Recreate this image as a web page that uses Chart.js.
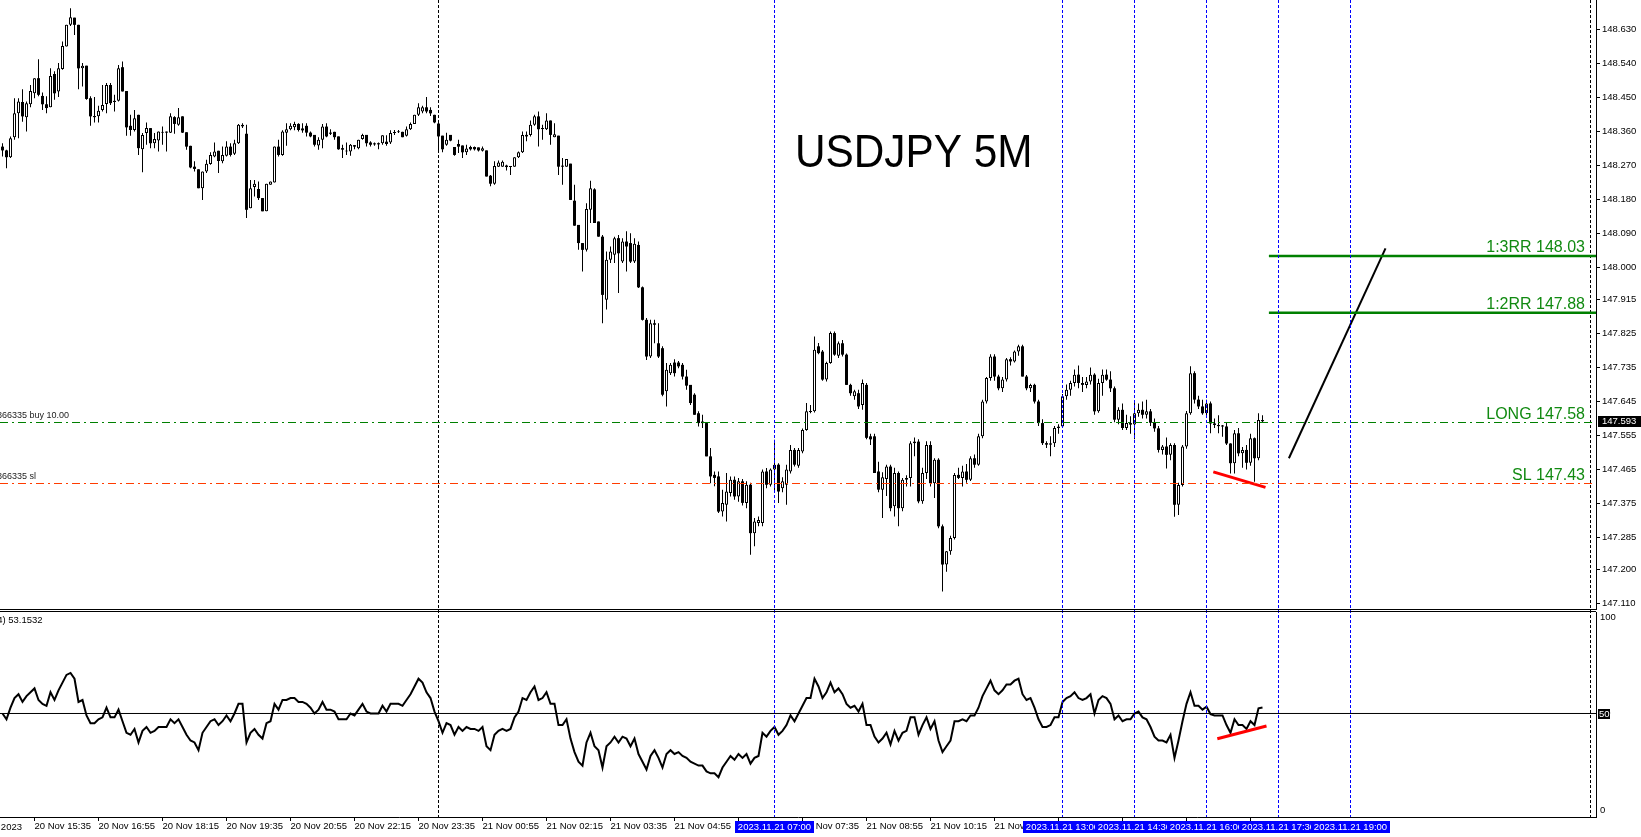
<!DOCTYPE html>
<html>
<head>
<meta charset="utf-8">
<title>USDJPY 5M</title>
<script src="https://cdn.jsdelivr.net/npm/chart.js@4.4.1/dist/chart.umd.min.js"></script>
<style>
  html, body { margin: 0; padding: 0; background: #fff; overflow: hidden; }
  #wrap { position: relative; width: 1641px; height: 837px; }
  #priceBox { position: absolute; left: 0; top: 0; width: 1641px; height: 610px; }
  #rsiBox { position: absolute; left: 0; top: 610px; width: 1641px; height: 227px; }
</style>
</head>
<body>
<div id="wrap">
  <div id="priceBox"><canvas id="priceChart"></canvas></div>
  <div id="rsiBox"><canvas id="rsiChart"></canvas></div>
</div>
<script>
// USDJPY M5, one entry per bar, first bar = 20 Nov 14:55
const opens = [
  148.319, 148.309, 148.291, 148.344, 148.407, 148.437, 148.397, 148.431, 148.460, 148.500,
  148.453, 148.431, 148.423, 148.511, 148.465, 148.524, 148.584, 148.641, 148.660, 148.641,
  148.526, 148.533, 148.447, 148.400, 148.399, 148.416, 148.432, 148.482, 148.440, 148.440,
  148.529, 148.466, 148.374, 148.363, 148.403, 148.312, 148.355, 148.368, 148.328, 148.335,
  148.356, 148.358, 148.356, 148.397, 148.377, 148.399, 148.357, 148.321, 148.266, 148.259,
  148.209, 148.253, 148.273, 148.293, 148.308, 148.280, 148.295, 148.319, 148.300, 148.328,
  148.372, 148.353, 148.156, 148.212, 148.207, 148.183, 148.148, 148.218, 148.224, 148.319,
  148.297, 148.356, 148.365, 148.370, 148.379, 148.367, 148.374, 148.356, 148.350, 148.322,
  148.337, 148.372, 148.356, 148.358, 148.346, 148.315, 148.306, 148.306, 148.323, 148.315,
  148.339, 148.350, 148.330, 148.326, 148.328, 148.328, 148.332, 148.330, 148.355, 148.357,
  148.358, 148.348, 148.365, 148.379, 148.403, 148.412, 148.423, 148.416, 148.403, 148.380,
  148.348, 148.324, 148.350, 148.318, 148.326, 148.322, 148.304, 148.318, 148.318, 148.317,
  148.308, 148.309, 148.242, 148.221, 148.266, 148.266, 148.269, 148.265, 148.266, 148.291,
  148.304, 148.350, 148.350, 148.377, 148.399, 148.365, 148.365, 148.388, 148.344, 148.348,
  148.268, 148.266, 148.274, 148.176, 148.112, 148.064, 148.046, 148.152, 148.206, 148.121,
  148.081, 147.914, 148.020, 148.033, 148.077, 148.015, 148.068, 148.064, 148.015, 148.059,
  147.947, 147.861, 147.764, 147.852, 147.799, 147.786, 147.672, 147.720, 147.748, 147.748,
  147.742, 147.711, 147.689, 147.663, 147.614, 147.592, 147.588, 147.500, 147.451, 147.447,
  147.354, 147.372, 147.403, 147.438, 147.394, 147.434, 147.377, 147.425, 147.297, 147.324,
  147.324, 147.460, 147.425, 147.465, 147.478, 147.416, 147.425, 147.460, 147.517, 147.475,
  147.513, 147.570, 147.617, 147.619, 147.791, 147.777, 147.703, 147.747, 147.826, 147.766,
  147.799, 147.769, 147.689, 147.659, 147.667, 147.636, 147.689, 147.553, 147.553, 147.460,
  147.412, 147.440, 147.473, 147.368, 147.456, 147.363, 147.438, 147.443, 147.535, 147.539,
  147.381, 147.456, 147.530, 147.429, 147.491, 147.315, 147.214, 147.249, 147.284, 147.451,
  147.443, 147.460, 147.438, 147.495, 147.478, 147.553, 147.645, 147.707, 147.764, 147.711,
  147.680, 147.703, 147.757, 147.751, 147.777, 147.791, 147.711, 147.680, 147.689, 147.645,
  147.588, 147.535, 147.531, 147.535, 147.575, 147.579, 147.659, 147.676, 147.694, 147.716,
  147.694, 147.689, 147.698, 147.716, 147.619, 147.694, 147.716, 147.703, 147.680, 147.597,
  147.623, 147.575, 147.588, 147.584, 147.614, 147.623, 147.610, 147.619, 147.589, 147.574,
  147.517, 147.526, 147.504, 147.530, 147.372, 147.424, 147.526, 147.614, 147.720, 147.650,
  147.632, 147.614, 147.640, 147.587, 147.583, 147.580, 147.579, 147.534, 147.482, 147.561,
  147.508, 147.517, 147.483, 147.548, 147.495, 147.596
];
const highs = [
  148.328, 148.311, 148.346, 148.447, 148.447, 148.471, 148.438, 148.482, 148.500, 148.550,
  148.462, 148.452, 148.526, 148.518, 148.540, 148.597, 148.641, 148.685, 148.660, 148.641,
  148.540, 148.533, 148.452, 148.450, 148.427, 148.482, 148.487, 148.487, 148.456, 148.535,
  148.544, 148.466, 148.403, 148.416, 148.403, 148.355, 148.383, 148.368, 148.355, 148.359,
  148.372, 148.359, 148.407, 148.399, 148.421, 148.399, 148.357, 148.321, 148.280, 148.259,
  148.253, 148.284, 148.304, 148.330, 148.308, 148.319, 148.333, 148.328, 148.337, 148.379,
  148.381, 148.377, 148.231, 148.231, 148.227, 148.183, 148.221, 148.227, 148.319, 148.337,
  148.362, 148.381, 148.381, 148.385, 148.381, 148.381, 148.381, 148.359, 148.350, 148.344,
  148.379, 148.381, 148.365, 148.358, 148.346, 148.324, 148.330, 148.326, 148.323, 148.337,
  148.353, 148.350, 148.333, 148.330, 148.330, 148.349, 148.349, 148.362, 148.363, 148.363,
  148.358, 148.372, 148.383, 148.403, 148.434, 148.427, 148.450, 148.423, 148.403, 148.383,
  148.348, 148.356, 148.350, 148.318, 148.337, 148.322, 148.324, 148.321, 148.319, 148.317,
  148.319, 148.309, 148.244, 148.280, 148.282, 148.282, 148.271, 148.268, 148.291, 148.306,
  148.359, 148.359, 148.388, 148.403, 148.412, 148.377, 148.407, 148.388, 148.381, 148.348,
  148.289, 148.286, 148.274, 148.218, 148.112, 148.064, 148.169, 148.229, 148.209, 148.121,
  148.085, 148.042, 148.055, 148.081, 148.085, 148.077, 148.095, 148.090, 148.077, 148.068,
  147.949, 147.866, 147.861, 147.861, 147.852, 147.791, 147.747, 147.747, 147.757, 147.752,
  147.747, 147.729, 147.689, 147.667, 147.619, 147.610, 147.588, 147.522, 147.460, 147.460,
  147.412, 147.456, 147.447, 147.447, 147.443, 147.440, 147.434, 147.430, 147.337, 147.341,
  147.465, 147.469, 147.468, 147.544, 147.482, 147.445, 147.478, 147.530, 147.522, 147.522,
  147.574, 147.641, 147.636, 147.817, 147.800, 147.781, 147.750, 147.830, 147.830, 147.804,
  147.808, 147.772, 147.692, 147.676, 147.676, 147.703, 147.694, 147.560, 147.560, 147.486,
  147.458, 147.478, 147.478, 147.470, 147.460, 147.443, 147.450, 147.540, 147.550, 147.545,
  147.470, 147.540, 147.540, 147.495, 147.495, 147.320, 147.250, 147.290, 147.456, 147.470,
  147.475, 147.480, 147.500, 147.505, 147.560, 147.650, 147.710, 147.770, 147.770, 147.716,
  147.710, 147.760, 147.762, 147.780, 147.795, 147.795, 147.715, 147.692, 147.692, 147.650,
  147.598, 147.540, 147.553, 147.580, 147.585, 147.665, 147.690, 147.700, 147.730, 147.740,
  147.710, 147.710, 147.735, 147.720, 147.705, 147.730, 147.730, 147.725, 147.685, 147.630,
  147.640, 147.610, 147.606, 147.641, 147.640, 147.645, 147.650, 147.625, 147.600, 147.580,
  147.530, 147.550, 147.535, 147.535, 147.430, 147.530, 147.620, 147.738, 147.725, 147.660,
  147.650, 147.650, 147.645, 147.600, 147.609, 147.583, 147.590, 147.535, 147.570, 147.575,
  147.525, 147.530, 147.560, 147.550, 147.614, 147.609
];
const lows = [
  148.293, 148.262, 148.289, 148.337, 148.341, 148.385, 148.359, 148.423, 148.447, 148.452,
  148.416, 148.407, 148.423, 148.443, 148.450, 148.522, 148.584, 148.638, 148.614, 148.471,
  148.478, 148.443, 148.374, 148.383, 148.383, 148.412, 148.407, 148.429, 148.412, 148.438,
  148.465, 148.348, 148.348, 148.359, 148.297, 148.251, 148.324, 148.315, 148.315, 148.306,
  148.324, 148.306, 148.355, 148.353, 148.374, 148.355, 148.311, 148.262, 148.253, 148.209,
  148.178, 148.249, 148.271, 148.291, 148.249, 148.275, 148.293, 148.293, 148.297, 148.326,
  148.368, 148.130, 148.156, 148.187, 148.178, 148.148, 148.148, 148.218, 148.224, 148.293,
  148.295, 148.321, 148.362, 148.362, 148.359, 148.356, 148.346, 148.344, 148.319, 148.311,
  148.315, 148.344, 148.350, 148.337, 148.311, 148.289, 148.297, 148.295, 148.312, 148.312,
  148.337, 148.319, 148.319, 148.321, 148.312, 148.324, 148.321, 148.326, 148.350, 148.355,
  148.344, 148.346, 148.363, 148.379, 148.400, 148.407, 148.407, 148.400, 148.381, 148.302,
  148.304, 148.321, 148.333, 148.295, 148.302, 148.289, 148.297, 148.309, 148.309, 148.306,
  148.306, 148.240, 148.214, 148.218, 148.265, 148.266, 148.256, 148.244, 148.266, 148.289,
  148.302, 148.333, 148.346, 148.374, 148.319, 148.337, 148.363, 148.324, 148.344, 148.244,
  148.218, 148.266, 148.178, 148.110, 148.046, 147.989, 148.042, 148.117, 148.117, 148.081,
  147.852, 147.888, 148.011, 148.011, 147.932, 148.011, 147.989, 148.011, 148.011, 147.945,
  147.859, 147.755, 147.760, 147.799, 147.760, 147.659, 147.632, 147.715, 147.711, 147.733,
  147.703, 147.676, 147.636, 147.610, 147.579, 147.575, 147.500, 147.429, 147.421, 147.350,
  147.341, 147.328, 147.394, 147.385, 147.380, 147.370, 147.363, 147.240, 147.262, 147.315,
  147.315, 147.416, 147.420, 147.403, 147.377, 147.405, 147.372, 147.455, 147.473, 147.470,
  147.508, 147.568, 147.614, 147.616, 147.770, 147.700, 147.698, 147.745, 147.766, 147.760,
  147.764, 147.689, 147.660, 147.650, 147.625, 147.623, 147.545, 147.530, 147.456, 147.405,
  147.337, 147.395, 147.355, 147.341, 147.315, 147.355, 147.420, 147.420, 147.500, 147.376,
  147.375, 147.440, 147.420, 147.390, 147.310, 147.143, 147.195, 147.240, 147.280, 147.440,
  147.420, 147.430, 147.435, 147.470, 147.475, 147.548, 147.640, 147.700, 147.700, 147.675,
  147.670, 147.698, 147.740, 147.748, 147.766, 147.711, 147.675, 147.670, 147.640, 147.580,
  147.530, 147.522, 147.500, 147.525, 147.560, 147.575, 147.650, 147.660, 147.685, 147.680,
  147.670, 147.680, 147.690, 147.610, 147.615, 147.660, 147.700, 147.670, 147.590, 147.585,
  147.570, 147.570, 147.560, 147.545, 147.605, 147.600, 147.600, 147.580, 147.565, 147.510,
  147.505, 147.468, 147.490, 147.340, 147.345, 147.420, 147.520, 147.610, 147.640, 147.625,
  147.610, 147.605, 147.561, 147.575, 147.561, 147.552, 147.530, 147.455, 147.455, 147.500,
  147.470, 147.465, 147.475, 147.433, 147.490, 147.589
];
const closes = [
  148.309, 148.291, 148.341, 148.407, 148.438, 148.399, 148.434, 148.466, 148.500, 148.456,
  148.431, 148.421, 148.506, 148.460, 148.526, 148.585, 148.641, 148.661, 148.641, 148.526,
  148.533, 148.445, 148.399, 148.397, 148.414, 148.429, 148.482, 148.434, 148.437, 148.526,
  148.465, 148.370, 148.363, 148.394, 148.315, 148.350, 148.368, 148.328, 148.339, 148.359,
  148.358, 148.356, 148.399, 148.379, 148.397, 148.356, 148.319, 148.264, 148.260, 148.209,
  148.253, 148.274, 148.297, 148.306, 148.281, 148.297, 148.319, 148.297, 148.328, 148.377,
  148.377, 148.152, 148.209, 148.221, 148.183, 148.148, 148.221, 148.227, 148.319, 148.297,
  148.359, 148.365, 148.374, 148.379, 148.363, 148.362, 148.356, 148.346, 148.324, 148.337,
  148.372, 148.346, 148.353, 148.344, 148.312, 148.311, 148.309, 148.324, 148.319, 148.337,
  148.350, 148.328, 148.324, 148.325, 148.325, 148.349, 148.326, 148.355, 148.357, 148.358,
  148.344, 148.365, 148.379, 148.403, 148.423, 148.423, 148.412, 148.407, 148.383, 148.346,
  148.312, 148.337, 148.335, 148.297, 148.319, 148.304, 148.314, 148.312, 148.312, 148.309,
  148.315, 148.240, 148.221, 148.268, 148.277, 148.279, 148.265, 148.268, 148.291, 148.304,
  148.350, 148.346, 148.377, 148.399, 148.365, 148.368, 148.388, 148.350, 148.352, 148.266,
  148.266, 148.286, 148.178, 148.110, 148.064, 148.046, 148.154, 148.209, 148.117, 148.081,
  147.927, 148.020, 148.042, 148.077, 148.037, 148.068, 148.055, 148.015, 148.062, 147.947,
  147.861, 147.764, 147.852, 147.848, 147.764, 147.663, 147.729, 147.742, 147.720, 147.738,
  147.711, 147.687, 147.641, 147.610, 147.588, 147.588, 147.500, 147.447, 147.443, 147.354,
  147.377, 147.407, 147.438, 147.394, 147.434, 147.377, 147.425, 147.297, 147.328, 147.332,
  147.460, 147.425, 147.465, 147.478, 147.407, 147.434, 147.465, 147.517, 147.478, 147.517,
  147.570, 147.619, 147.619, 147.782, 147.773, 147.703, 147.747, 147.826, 147.769, 147.799,
  147.769, 147.689, 147.667, 147.672, 147.632, 147.694, 147.549, 147.545, 147.456, 147.412,
  147.445, 147.473, 147.363, 147.456, 147.363, 147.438, 147.443, 147.535, 147.539, 147.381,
  147.456, 147.530, 147.429, 147.491, 147.315, 147.214, 147.249, 147.284, 147.451, 147.443,
  147.460, 147.438, 147.495, 147.478, 147.553, 147.645, 147.707, 147.764, 147.711, 147.680,
  147.703, 147.757, 147.751, 147.777, 147.791, 147.711, 147.680, 147.689, 147.645, 147.588,
  147.535, 147.531, 147.535, 147.575, 147.579, 147.659, 147.676, 147.694, 147.716, 147.694,
  147.689, 147.698, 147.716, 147.619, 147.694, 147.716, 147.703, 147.680, 147.597, 147.623,
  147.575, 147.588, 147.584, 147.614, 147.623, 147.610, 147.619, 147.589, 147.574, 147.517,
  147.526, 147.504, 147.530, 147.372, 147.424, 147.526, 147.614, 147.720, 147.650, 147.632,
  147.614, 147.640, 147.587, 147.583, 147.580, 147.579, 147.534, 147.482, 147.561, 147.508,
  147.517, 147.483, 147.548, 147.495, 147.596, 147.593
];
// RSI(14), same bars
const rsiValues = [
  50, 47, 53, 58, 60, 56, 59, 61, 63, 57,
  55, 54, 61, 57, 62, 66, 70, 71, 68, 56,
  57, 49, 45, 45, 47, 48, 53, 48, 48, 52,
  46, 40, 39, 42, 35, 41, 43, 40, 41, 43,
  43, 43, 47, 45, 47, 43, 39, 36, 35, 31,
  40, 43, 46, 47, 44, 46, 49, 46, 50, 55,
  55, 35, 40, 42, 39, 37, 45, 46, 55, 52,
  57, 57, 58, 58, 56, 56, 55, 53, 50, 52,
  56, 52, 52, 51, 47, 47, 47, 50, 49, 52,
  55, 51, 50, 50, 50, 54, 51, 55, 55, 55,
  54, 57, 60, 64, 68, 66, 61, 58, 51, 46,
  40, 45, 44, 39, 43, 41, 43, 42, 42, 41,
  43, 33, 31, 39, 41, 42, 41, 42, 48, 51,
  58, 57, 61, 64, 57, 58, 61, 55, 55, 44,
  44, 47, 37, 30, 25, 23, 35, 40, 33, 31,
  22, 33, 35, 38, 35, 38, 37, 33, 37, 29,
  25, 21, 28, 31, 27, 22, 29, 31, 29, 30,
  28, 27, 25, 24, 23, 23, 20, 19, 19, 17,
  22, 25, 28, 26, 29, 27, 29, 24, 27, 28,
  40, 38, 41, 43, 39, 41, 44, 49, 46, 50,
  54, 58, 58, 68, 64, 58, 61, 66, 61, 63,
  60, 55, 53, 54, 51, 55, 44, 44, 38, 35,
  37, 40, 34, 41, 36, 40, 41, 48, 48, 39,
  44, 48, 42, 46, 36, 30, 33, 36, 46, 46,
  47, 46, 49, 49, 53, 59, 63, 67, 62, 60,
  62, 65, 65, 67, 68, 60, 57, 58, 53, 47,
  43, 43, 44, 48, 48, 56, 58, 59, 61, 58,
  57, 58, 60, 50, 57, 59, 58, 55, 47, 49,
  46, 47, 47, 50, 51, 48, 47, 43, 38, 36,
  36, 35, 39, 27, 36, 46, 55, 61, 54, 54,
  52, 53.5, 49.7, 49, 49, 49, 44, 40, 47, 44,
  44, 42, 46, 44, 52.7, 53.1532
];

const priceTicks = [148.63, 148.54, 148.45, 148.36, 148.27, 148.18, 148.09, 148.0, 147.915,
  147.825, 147.735, 147.645, 147.555, 147.465, 147.375, 147.285, 147.2, 147.11];
const rsiTicks = [0, 50, 100];

const timeTickBars = [8, 24, 40, 56, 72, 88, 104, 120, 136, 152, 168, 184, 200, 216, 232, 248, 264, 280, 296, 312];
const timeTickLabels = [
  "20 Nov 15:35", "20 Nov 16:55", "20 Nov 18:15", "20 Nov 19:35", "20 Nov 20:55", "20 Nov 22:15",
  "20 Nov 23:35", "21 Nov 00:55", "21 Nov 02:15", "21 Nov 03:35", "21 Nov 04:55", "21 Nov 06:15",
  "21 Nov 07:35", "21 Nov 08:55", "21 Nov 10:15", "21 Nov 11:35", "21 Nov 12:55", "21 Nov 14:15",
  "21 Nov 15:35", "21 Nov 16:55"
];
const firstDateLabel = "20 Nov 2023";

// day separators and the blue event lines (bar index)
const separatorBars = [109, 397];
const eventBars = [193, 265, 283, 301, 319, 337];
const eventLabels = ["2023.11.21 07:00", "2023.11.21 13:00", "2023.11.21 14:30",
  "2023.11.21 16:00", "2023.11.21 17:30", "2023.11.21 19:00"];

// trade levels
const rrLevels = [148.03, 147.88];
const rrLabels = ["1:3RR 148.03", "1:2RR 147.88"];
const rrStartBar = 316.6;
const orderLevels = [147.591, 147.43];
const orderTags = ["LONG 147.58", "SL 147.43"];
const orderNotes = ["866335 buy 10.00", "866335 sl"];
const orderColors = ["#008000", "#ff3c00"];

// drawn trend lines (bar index / price or rsi)
const projX = [321.6, 345.75];
const projY = [147.495, 148.05];
const priceDivX = [302.7, 315.75];
const priceDivY = [147.459, 147.418];
const rsiDivX = [303.7, 316];
const rsiDivY = [36.9, 43.5];

const chartTitle = "USDJPY 5M";
const rsiName = "RSI(14) 53.1532";

const X_MIN = -0.625;
const X_MAX = 398.375;
const FONT = "'Liberation Sans', Arial, sans-serif";
const AXIS_FONT = { family: FONT, size: 9.5 };

Chart.defaults.font.family = FONT;

const isUp = (i) => closes[i] >= opens[i];
const bodies = opens.map((o, i) => ({ x: i, y: [o, closes[i]] }));
const wicks = lows.map((l, i) => ({ x: i, y: [l, highs[i]] }));

function segment(xs, ys, color, width, dash) {
  return {
    type: "line",
    data: xs.map((x, i) => ({ x, y: ys[i] })),
    borderColor: color,
    borderWidth: width,
    borderDash: dash || [],
    pointRadius: 0,
    fill: false,
    order: 0,
  };
}

function drawVLines(chart, bars, color, top, bottom) {
  const { ctx, scales: { x } } = chart;
  ctx.save();
  ctx.strokeStyle = color;
  ctx.lineWidth = 1;
  ctx.setLineDash([3, 2]);
  bars.forEach((b) => {
    const px = Math.floor(x.getPixelForValue(b)) + 0.5;
    ctx.beginPath();
    ctx.moveTo(px, top);
    ctx.lineTo(px, bottom);
    ctx.stroke();
  });
  ctx.restore();
}

// order lines snapped to whole pixels so the 1px dash-dot stays crisp
function drawOrderLines(chart) {
  const { ctx, chartArea: a, scales: { y } } = chart;
  ctx.save();
  ctx.lineWidth = 1;
  ctx.setLineDash([8, 4, 2, 4]);
  orderLevels.forEach((v, i) => {
    const py = Math.round(y.getPixelForValue(v)) + 0.5;
    ctx.strokeStyle = orderColors[i];
    ctx.beginPath();
    ctx.moveTo(a.left, py);
    ctx.lineTo(a.right, py);
    ctx.stroke();
  });
  ctx.restore();
}

const priceDecor = {
  id: "priceDecor",
  beforeDatasetsDraw(chart) {
    drawVLines(chart, separatorBars, "#000", chart.chartArea.top, chart.chartArea.bottom);
  },
  afterDatasetsDraw(chart) {
    drawOrderLines(chart);
    drawVLines(chart, eventBars, "#0000ff", chart.chartArea.top, chart.chartArea.bottom);
  },
  afterDraw(chart) {
    const { ctx, chartArea: a, scales: { y } } = chart;
    ctx.save();
    ctx.strokeStyle = "#000";
    ctx.lineWidth = 1;
    ctx.beginPath();
    ctx.moveTo(0, a.bottom + 0.5);
    ctx.lineTo(a.right, a.bottom + 0.5);
    ctx.stroke();

    // title
    ctx.save();
    ctx.fillStyle = "#000";
    ctx.font = "46px " + FONT;
    ctx.textBaseline = "alphabetic";
    ctx.translate(795, 167);
    ctx.scale(0.92, 1);
    ctx.fillText(chartTitle, 0, 0);
    ctx.restore();

    // level tags on the right
    ctx.font = "16px " + FONT;
    ctx.fillStyle = "#118a11";
    ctx.textAlign = "right";
    ctx.textBaseline = "alphabetic";
    rrLevels.forEach((v, i) => ctx.fillText(rrLabels[i], a.right - 11, y.getPixelForValue(v) - 4));
    orderLevels.forEach((v, i) => ctx.fillText(orderTags[i], a.right - 11, y.getPixelForValue(v) - 2.5));

    // order notes on the left
    ctx.font = "9px " + FONT;
    ctx.fillStyle = "#222";
    ctx.textAlign = "left";
    orderLevels.forEach((v, i) => ctx.fillText(orderNotes[i], -3, y.getPixelForValue(v) - 3.5));

    // last price marker
    const last = closes[closes.length - 1];
    const py = Math.round(y.getPixelForValue(last));
    ctx.fillStyle = "#000";
    ctx.fillRect(a.right + 2, py - 5, chart.width - a.right - 2, 11);
    ctx.fillStyle = "#fff";
    ctx.font = "9.5px " + FONT;
    ctx.textBaseline = "middle";
    ctx.fillText(last.toFixed(3), a.right + 6, py + 0.5);
    ctx.restore();
  },
};

const rsiDecor = {
  id: "rsiDecor",
  beforeDatasetsDraw(chart) {
    drawVLines(chart, separatorBars, "#000", 0, chart.chartArea.bottom);
  },
  afterDatasetsDraw(chart) {
    drawVLines(chart, eventBars, "#0000ff", 0, chart.chartArea.bottom);
  },
  afterDraw(chart) {
    const { ctx, chartArea: a, scales: { x, y } } = chart;
    ctx.save();
    ctx.strokeStyle = "#000";
    ctx.lineWidth = 1;
    ctx.beginPath();
    ctx.moveTo(0, a.top - 0.5);
    ctx.lineTo(a.right, a.top - 0.5);
    ctx.stroke();

    ctx.font = "9.5px " + FONT;
    ctx.fillStyle = "#000";
    ctx.textBaseline = "alphabetic";
    ctx.textAlign = "left";
    ctx.fillText(rsiName, 2.5 - ctx.measureText("RSI(14").width, 12.5);

    // 50 level marker
    const y50 = Math.round(y.getPixelForValue(50));
    ctx.fillRect(a.right + 2, y50 - 4, 12, 10);
    ctx.fillStyle = "#fff";
    ctx.textBaseline = "middle";
    ctx.fillText("50", a.right + 3, y50 + 1);

    // time axis: first date and event line stamps
    const ty = a.bottom + 10;
    ctx.fillStyle = "#000";
    ctx.textAlign = "right";
    ctx.fillText(firstDateLabel, 22, ty);
    ctx.textAlign = "center";
    eventBars.forEach((b, i) => {
      const px = x.getPixelForValue(b);
      const w = ctx.measureText(eventLabels[i]).width + 6;
      ctx.fillStyle = "#0000ff";
      ctx.fillRect(Math.round(px - w / 2), a.bottom + 4, Math.round(w), 12);
      ctx.fillStyle = "#fff";
      ctx.fillText(eventLabels[i], px, ty);
    });
    ctx.restore();
  },
};

new Chart(document.getElementById("priceChart"), {
  type: "bar",
  data: {
    datasets: [
      ...rrLevels.map((v) => segment([rrStartBar, X_MAX], [v, v], "#008000", 2.5)),
      segment(projX, projY, "#000", 2),
      segment(priceDivX, priceDivY, "#ff0000", 3),
      {
        type: "bar",
        data: bodies,
        order: 1,
        grouped: false,
        barThickness: 3,
        minBarLength: 1,
        inflateAmount: 0,
        borderSkipped: false,
        backgroundColor: (c) => (isUp(c.dataIndex) ? "#fff" : "#000"),
        borderColor: "#000",
        borderWidth: (c) => (isUp(c.dataIndex) ? 1 : 0),
      },
      {
        type: "bar",
        data: wicks,
        order: 2,
        grouped: false,
        barThickness: 1,
        inflateAmount: 0,
        backgroundColor: "#000",
        borderWidth: 0,
      },
    ],
  },
  options: {
    responsive: true,
    maintainAspectRatio: false,
    animation: false,
    events: [],
    layout: { padding: { top: 0, right: 0, bottom: 1, left: 0 } },
    plugins: { legend: { display: false }, tooltip: { enabled: false } },
    scales: {
      x: { type: "linear", display: false, min: X_MIN, max: X_MAX, offset: false },
      y: {
        position: "right",
        min: 147.0964,
        max: 148.7067,
        afterBuildTicks: (s) => { s.ticks = priceTicks.map((v) => ({ value: v })); },
        afterFit: (s) => { s.width = 45; s.paddingTop = 0; s.paddingBottom = 0; },
        ticks: { autoSkip: false, padding: 2, color: "#000", font: AXIS_FONT, callback: (v) => Number(v).toFixed(3) },
        grid: { drawOnChartArea: false, tickLength: 4, color: "#000" },
        border: { display: true, color: "#000", width: 1 },
      },
    },
  },
  plugins: [priceDecor],
});

new Chart(document.getElementById("rsiChart"), {
  type: "line",
  data: {
    datasets: [
      segment([X_MIN, X_MAX], [50, 50], "#000", 1),
      segment(rsiDivX, rsiDivY, "#ff0000", 3),
      {
        data: rsiValues.map((v, i) => ({ x: i, y: v })),
        borderColor: "#000",
        borderWidth: 2,
        pointRadius: 0,
        fill: false,
        tension: 0,
        order: 1,
      },
    ],
  },
  options: {
    responsive: true,
    maintainAspectRatio: false,
    animation: false,
    events: [],
    layout: { padding: { top: 2, right: 0, bottom: 0, left: 0 } },
    plugins: { legend: { display: false }, tooltip: { enabled: false } },
    scales: {
      x: {
        type: "linear",
        position: "bottom",
        min: X_MIN,
        max: X_MAX,
        offset: false,
        afterBuildTicks: (s) => { s.ticks = timeTickBars.map((v) => ({ value: v })); },
        afterFit: (s) => { s.height = 20; s.paddingLeft = 0; s.paddingRight = 0; },
        ticks: {
          autoSkip: false, maxRotation: 0, minRotation: 0, align: "start", padding: 0,
          color: "#000", font: AXIS_FONT, callback: (v, i) => timeTickLabels[i],
        },
        grid: { drawOnChartArea: false, tickLength: 4, color: "#000" },
        border: { display: true, color: "#000" },
      },
      y: {
        position: "right",
        min: -3.63,
        max: 102.59,
        afterBuildTicks: (s) => { s.ticks = rsiTicks.map((v) => ({ value: v })); },
        afterFit: (s) => { s.width = 45; s.paddingTop = 0; s.paddingBottom = 0; },
        ticks: { autoSkip: false, padding: 4, color: "#000", font: AXIS_FONT },
        grid: { drawOnChartArea: false, drawTicks: false, color: "#000" },
        border: { display: true, color: "#000" },
      },
    },
  },
  plugins: [rsiDecor],
});
</script>
</body>
</html>
